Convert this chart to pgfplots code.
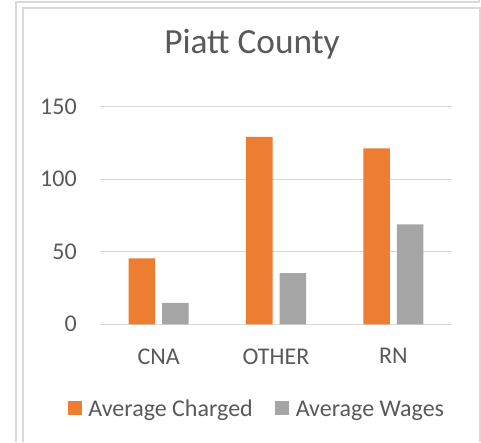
\documentclass[border=0pt]{standalone}
\usepackage{fontspec}
\setmainfont{Carlito}
\usepackage{pgfplots}
\pgfplotsset{compat=1.18}
\definecolor{barorange}{HTML}{ED7D31}
\definecolor{bargray}{HTML}{A5A5A5}
\definecolor{gridgray}{HTML}{D9D9D9}
\definecolor{txtgray}{HTML}{595959}
\begin{document}
\begin{tikzpicture}
% canvas 481x442 px, 1px = 0.75pt
\path[use as bounding box] (0pt,0pt) rectangle (360.75pt,-331.5pt);
% outer and inner frame lines
\draw[gridgray,line width=1.125pt] (12pt,-331.5pt) -- (12pt,-1.5pt) -- (359.25pt,-1.5pt) -- (359.25pt,0pt);
\draw[gridgray,line width=1.125pt] (17.25pt,-331.5pt) -- (17.25pt,-6pt) -- (360pt,-6pt) -- (360pt,-331.5pt);
\node[anchor=base,text=txtgray,font=\fontsize{26.5pt}{30pt}\selectfont,inner sep=0pt]
  at (189pt,-40.5pt) {Piatt County};
\begin{axis}[
    at={(75pt,-243.2pt)}, anchor=south west,
    scale only axis,
    width=264pt, height=163.2pt,
    ybar=5.25pt, bar width=19.9pt,
    xmin=-0.5, xmax=2.5,
    ymin=0, ymax=150,
    xtick=data,
    xticklabels={CNA,OTHER,RN},
    ytick={0,50,100,150},
    ymajorgrids,
    grid style={gridgray,line width=0.75pt},
    axis line style={draw=none},
    major tick length=0pt,
    tick label style={text=txtgray,font=\fontsize{18pt}{21pt}\selectfont},
    /pgf/number format/assume math mode=true,
    yticklabel style={inner sep=0pt,anchor=east,xshift=-17.25pt},
    xticklabel style={inner sep=0pt,anchor=north,yshift=-18pt},
    legend style={at={(-0.0909,-0.391)}, anchor=west, draw=none, fill=none,
      inner sep=0pt, outer sep=0pt, text=txtgray,
      font=\fontsize{18pt}{21pt}\selectfont,
      nodes={inner sep=0pt},
      /tikz/every odd column/.append style={column sep=4.95pt},
      /tikz/every even column/.append style={column sep=17pt}},
    legend columns=2,
    legend image code/.code={\fill[#1] (0pt,-4.1pt) rectangle (10.3pt,6.4pt);},
]
\addplot[fill=barorange,draw=none] coordinates {(0,45.4) (1,129.2) (2,121.3)};
\addplot[fill=bargray,draw=none] coordinates {(0,14.7) (1,35.3) (2,68.9)};
\legend{Average Charged,Average Wages}
\end{axis}
\end{tikzpicture}
\end{document}
